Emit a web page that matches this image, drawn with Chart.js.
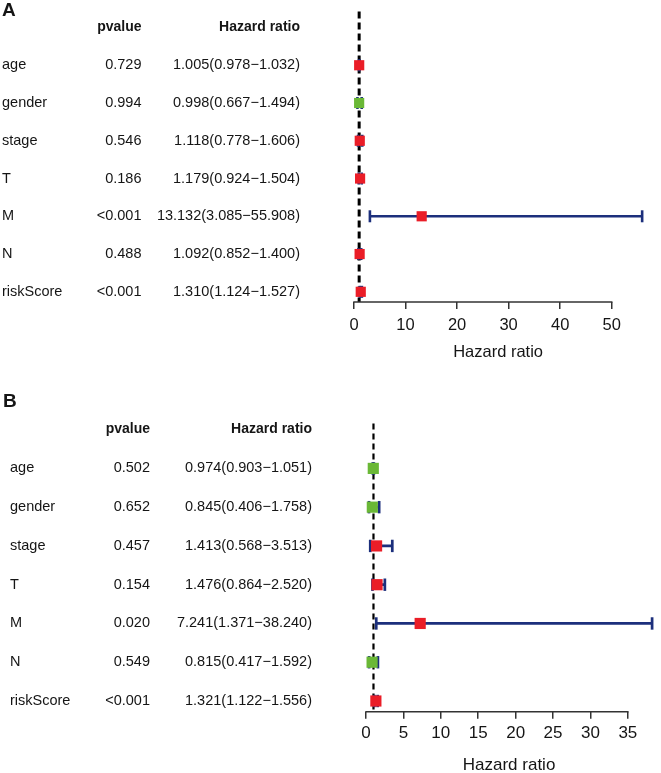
<!DOCTYPE html>
<html>
<head>
<meta charset="utf-8">
<script src="https://cdn.jsdelivr.net/npm/chart.js@4.4.1/dist/chart.umd.min.js"></script>
<style>
html,body{margin:0;padding:0;background:#fff;}
#wrap{position:relative;width:661px;height:773px;overflow:hidden;background:#fff;}
#ca{position:absolute;left:0;top:0;}
#cb{position:absolute;left:0;top:380px;}
</style>
</head>
<body>
<div id="wrap">
<canvas id="ca" width="661" height="380"></canvas>
<canvas id="cb" width="661" height="393"></canvas>
</div>
<script>
// ---------- data ----------
const categories = ['age', 'gender', 'stage', 'T', 'M', 'N', 'riskScore'];

// Panel A
const pvalueA = ['0.729', '0.994', '0.546', '0.186', '<0.001', '0.488', '<0.001'];
const hrA   = [1.005, 0.998, 1.118, 1.179, 13.132, 1.092, 1.310];
const lowA  = [0.978, 0.667, 0.778, 0.924, 3.085, 0.852, 1.124];
const highA = [1.032, 1.494, 1.606, 1.504, 55.908, 1.400, 1.527];
const xTicksA = [0, 10, 20, 30, 40, 50];

// Panel B
const pvalueB = ['0.502', '0.652', '0.457', '0.154', '0.020', '0.549', '<0.001'];
const hrB   = [0.974, 0.845, 1.413, 1.476, 7.241, 0.815, 1.321];
const lowB  = [0.903, 0.406, 0.568, 0.864, 1.371, 0.417, 1.122];
const highB = [1.051, 1.758, 3.513, 2.520, 38.240, 1.592, 1.556];
const xTicksB = [0, 5, 10, 15, 20, 25, 30, 35];

const headerP = 'pvalue';
const headerHR = 'Hazard ratio';
const axisTitle = 'Hazard ratio';

// ---------- styling ----------
const RED = '#EA1D27';
const GREEN = '#6AB836';
const NAVY = '#1C2F7C';
const TXT = '#151515';
const AXC = '#333333';
const FONT = '"Liberation Sans", Arial, Helvetica, sans-serif';

function fmtHR(h, l, u) {
  return h.toFixed(3) + '(' + l.toFixed(3) + '\u2212' + u.toFixed(3) + ')';
}

const tablePlugin = {
  id: 'forestTable',
  afterDraw(chart, args, o) {
    const ctx = chart.ctx;
    const ys = chart.scales.y;
    const xs = chart.scales.x;
    ctx.save();
    // axis line from first to last tick
    const ticks = o.xTicks;
    const yb = chart.chartArea.bottom;
    ctx.strokeStyle = AXC;
    ctx.lineWidth = o.axisWidth;
    ctx.beginPath();
    ctx.moveTo(xs.getPixelForValue(ticks[0]) - o.axisWidth / 2, yb);
    ctx.lineTo(xs.getPixelForValue(ticks[ticks.length - 1]) + o.axisWidth / 2, yb);
    ctx.stroke();

    ctx.fillStyle = TXT;
    ctx.textBaseline = 'middle';
    // panel letter
    ctx.font = 'bold ' + o.letterSize + 'px ' + FONT;
    ctx.textAlign = 'left';
    ctx.fillText(o.letter, o.letterX, o.letterY);
    // header
    const hy = ys.getPixelForValue(0);
    ctx.font = 'bold ' + o.headSize + 'px ' + FONT;
    ctx.textAlign = 'right';
    ctx.fillText(headerP, o.pX, hy);
    ctx.fillText(headerHR, o.hrX, hy);
    // rows
    ctx.font = o.rowSize + 'px ' + FONT;
    categories.forEach((c, i) => {
      const py = ys.getPixelForValue(i + 1);
      ctx.textAlign = 'left';
      ctx.fillText(c, o.nameX, py);
      ctx.textAlign = 'right';
      ctx.fillText(o.pvalues[i], o.pX, py);
      ctx.fillText(fmtHR(o.hr[i], o.low[i], o.high[i]), o.hrX, py);
    });
    ctx.restore();
  }
};

function buildPanel(canvasId, p) {
  const rows = categories.map((_, i) => i + 1);
  const markers = p.hr.map((v, i) => ({x: v, y: rows[i]}));
  const colors = p.hr.map(v => (v > 1 ? RED : GREEN));
  const ci = [];
  const caps = [];
  p.low.forEach((lo, i) => {
    ci.push({x: lo, y: rows[i]}, {x: p.high[i], y: rows[i]}, {x: p.high[i], y: null});
    caps.push({x: lo, y: rows[i]}, {x: p.high[i], y: rows[i]});
  });
  const ref = [{x: 1, y: p.refTop}, {x: 1, y: p.yMax}];
  const xMax = Math.max(...p.high);

  return new Chart(document.getElementById(canvasId), {
    type: 'scatter',
    data: {
      datasets: [
        {
          label: 'HR', data: markers, order: 0,
          pointStyle: 'rect', pointRadius: p.markerR, pointHoverRadius: p.markerR,
          pointBackgroundColor: colors, pointBorderColor: colors, pointBorderWidth: 0,
          clip: false
        },
        {
          label: 'caps', data: caps, order: 1,
          pointStyle: 'line', pointRotation: 90, pointRadius: p.capR, pointHoverRadius: p.capR,
          pointBorderColor: NAVY, pointBorderWidth: p.ciWidth, clip: false
        },
        {
          label: 'CI', data: ci, order: 2, showLine: true, spanGaps: false,
          borderColor: NAVY, borderWidth: p.ciWidth, pointRadius: 0, pointHoverRadius: 0,
          clip: false
        },
        {
          label: 'ref', data: ref, order: 3, showLine: true,
          borderColor: '#000', borderWidth: p.refWidth, borderDash: p.refDash,
          pointRadius: 0, pointHoverRadius: 0, clip: false, borderCapStyle: 'butt'
        }
      ]
    },
    options: {
      responsive: false,
      animation: false,
      devicePixelRatio: 1,
      layout: {padding: {left: p.padLeft, right: 661 - p.padLeft - (p.rightPx - p.padLeft), top: p.padTop, bottom: 0}},
      plugins: {
        legend: {display: false},
        tooltip: {enabled: false},
        forestTable: {
          xTicks: p.xTicks, axisWidth: 1.5,
          letter: p.letter, letterX: p.letterX, letterY: p.letterY, letterSize: 19,
          headSize: 14, rowSize: 14.5,
          nameX: p.nameX, pX: p.pX, hrX: p.hrX,
          pvalues: p.pvalues, hr: p.hr, low: p.low, high: p.high
        }
      },
      scales: {
        x: {
          type: 'linear', position: 'bottom',
          min: 0, max: xMax,
          border: {display: false},
          grid: {display: true, drawOnChartArea: false, drawTicks: true, tickLength: 7, color: AXC, lineWidth: 1.5},
          ticks: {
            color: TXT, padding: p.tickPad,
            font: {family: FONT, size: p.tickSize},
            maxRotation: 0, autoSkip: false, includeBounds: false
          },
          afterBuildTicks: (scale) => { scale.ticks = p.xTicks.map(v => ({value: v})); },
          afterFit: (scale) => { scale.height = p.axisH; },
          title: {
            display: true, text: axisTitle, color: TXT,
            font: {family: FONT, size: p.titleSize, lineHeight: p.titleLH},
            padding: {top: 0, bottom: p.titlePadB}
          }
        },
        y: {
          type: 'linear', display: false, reverse: true,
          min: p.yMin, max: p.yMax
        }
      }
    },
    plugins: [tablePlugin]
  });
}

buildPanel('ca', {
  letter: 'A', letterX: 2, letterY: 10.5,
  nameX: 2, pX: 141.5, hrX: 300,
  pvalues: pvalueA, hr: hrA, low: lowA, high: highA, xTicks: xTicksA,
  padLeft: 354, rightPx: 354 + 55.908 * 5.154,
  padTop: 2, yMin: -0.5, yMax: 7.27, refTop: -0.42,
  axisH: 78, tickPad: 6.3, tickSize: 16.5, titleSize: 16.5, titleLH: 1, titlePadB: 19.25,
  markerR: 7.2, capR: 6, ciWidth: 2.6, refWidth: 3, refDash: [7, 4]
});

buildPanel('cb', {
  letter: 'B', letterX: 3, letterY: 21.5,
  nameX: 10, pX: 150, hrX: 312,
  pvalues: pvalueB, hr: hrB, low: lowB, high: highB, xTicks: xTicksB,
  padLeft: 366, rightPx: 366 + 38.24 * 7.637,
  padTop: 38, yMin: -0.3, yMax: 7.276, refTop: -0.16,
  axisH: 61.3, tickPad: 4.9, tickSize: 17, titleSize: 17, titleLH: 0.8, titlePadB: 0.4,
  markerR: 7.9, capR: 6.2, ciWidth: 2.7, refWidth: 2.2, refDash: [6, 4]
});
</script>
</body>
</html>
